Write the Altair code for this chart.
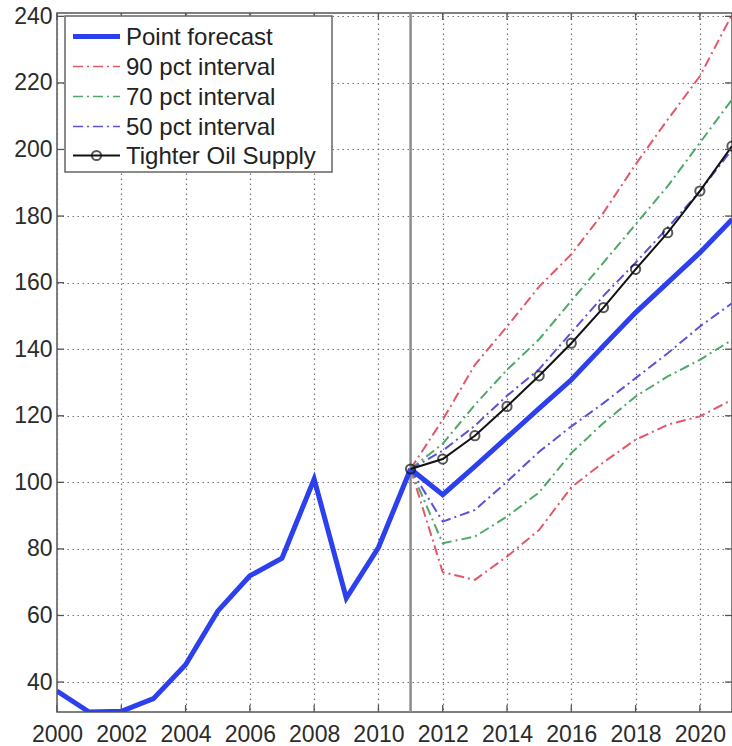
import altair as alt
import pandas as pd

# Historical oil price (USD per barrel)
hist_years = list(range(2000, 2012))
hist_price = [37.3, 31.0, 31.2, 35.0, 45.2, 61.3, 71.9, 77.2, 101.0, 65.2, 80.4, 104.0]

# Forecast horizon, starting from the last observation
fc_years = list(range(2011, 2022))
point_fc = [104.0, 96.3, 104.8, 113.5, 122.2, 130.8, 141.0, 151.0, 160.0, 169.0, 179.0]
tighter = [104.0, 107.0, 114.0, 122.8, 132.0, 141.8, 152.5, 164.0, 175.0, 187.5, 201.0]
lo90 = [104.0, 73.0, 70.7, 77.7, 85.7, 98.5, 106.0, 112.8, 117.3, 119.8, 124.8]
hi90 = [104.0, 118.8, 135.3, 146.8, 158.8, 168.5, 181.0, 195.5, 209.0, 222.0, 240.5]
lo70 = [104.0, 81.7, 83.7, 89.7, 97.0, 108.8, 117.8, 125.8, 131.8, 136.8, 142.8]
hi70 = [104.0, 111.6, 123.3, 133.8, 143.0, 154.5, 166.0, 177.5, 189.0, 202.0, 215.0]
lo50 = [104.0, 88.2, 91.7, 100.2, 109.2, 116.8, 123.8, 131.3, 138.8, 146.8, 153.8]
hi50 = [104.0, 109.5, 117.0, 126.0, 134.0, 145.0, 156.0, 166.0, 176.5, 187.5, 200.0]

x_ticks = list(range(2000, 2021, 2))
y_ticks = list(range(40, 241, 20))
split_year = [2011]

legend_labels = ["Point forecast", "90 pct interval", "70 pct interval",
                 "50 pct interval", "Tighter Oil Supply"]

W, H = 675, 699
FONT = "Liberation Sans"
BLUE = "#2d40ee"
RED = "#e2576a"
GREEN = "#4fa868"
PURPLE = "#5b52dc"
DASHDOT = [10, 4, 2, 4]
BAND_W = 2

xscale = alt.Scale(domain=[2000, 2021], nice=False, zero=False)
yscale = alt.Scale(domain=[31, 241], nice=False, zero=False)

X = alt.X("year:Q", scale=xscale, title=None,
          axis=alt.Axis(values=x_ticks, format="d", grid=True, ticks=False,
                        domain=False, labelFont=FONT, labelFontSize=23,
                        labelColor="#2b2b2b", labelPadding=11,
                        gridDash=[1.5, 3.5], gridColor="#737373",
                        gridWidth=1.2, labelFlush=False, labelOverlap=False))
Y = alt.Y("value:Q", scale=yscale, title=None,
          axis=alt.Axis(values=y_ticks, grid=True, ticks=False, domain=False,
                        labelFont=FONT, labelFontSize=23, labelColor="#2b2b2b",
                        labelPadding=5, gridDash=[1.5, 3.5],
                        gridColor="#737373", gridWidth=1.2, labelFlush=False,
                        labelOverlap=False))


def series_df(years, values):
    return pd.DataFrame({"year": years, "value": values})


def line(years, values, **style):
    return alt.Chart(series_df(years, values)).mark_line(clip=True, **style).encode(x=X, y=Y)


# Vertical marker at the forecast origin
split = alt.Chart(pd.DataFrame({"year": split_year})).mark_rule(
    color="#8c8c8c", strokeWidth=2.5).encode(x=X)

# Inward tick marks on all four sides
xt = pd.DataFrame({"year": x_ticks})
yt = pd.DataFrame({"value": y_ticks})
tick_style = dict(color="#555555", strokeWidth=1.3)
ticks = [
    alt.Chart(xt).mark_rule(**tick_style).encode(x=X, y=alt.value(H), y2=alt.value(H - 7)),
    alt.Chart(xt).mark_rule(**tick_style).encode(x=X, y=alt.value(0), y2=alt.value(7)),
    alt.Chart(yt).mark_rule(**tick_style).encode(y=Y, x=alt.value(0), x2=alt.value(7)),
    alt.Chart(yt).mark_rule(**tick_style).encode(y=Y, x=alt.value(W), x2=alt.value(W - 7)),
]

bands = [
    line(fc_years, lo90, color=RED, strokeWidth=BAND_W, strokeDash=DASHDOT),
    line(fc_years, hi90, color=RED, strokeWidth=BAND_W, strokeDash=DASHDOT),
    line(fc_years, lo70, color=GREEN, strokeWidth=BAND_W, strokeDash=DASHDOT),
    line(fc_years, hi70, color=GREEN, strokeWidth=BAND_W, strokeDash=DASHDOT),
    line(fc_years, lo50, color=PURPLE, strokeWidth=BAND_W, strokeDash=DASHDOT),
    line(fc_years, hi50, color=PURPLE, strokeWidth=BAND_W, strokeDash=DASHDOT),
]

history = line(hist_years, hist_price, color=BLUE, strokeWidth=5, strokeJoin="miter")
forecast = line(fc_years, point_fc, color=BLUE, strokeWidth=5)
tight_line = line(fc_years, tighter, color="#111111", strokeWidth=2)
tight_pts = alt.Chart(series_df(fc_years, tighter)).mark_point(
    shape="circle", filled=False, color="#111111", size=85, strokeWidth=2
).encode(x=X, y=Y)

# Legend box drawn in the upper-left corner of the plot
one = alt.Data(values=[{}])
row_y = [23.5, 53.5, 83.5, 113.5, 142.5]
lx0, lx1, tx = 16, 63, 69
legend = [
    alt.Chart(one).mark_rect(fill="white", stroke="#666666", strokeWidth=1.5).encode(
        x=alt.value(8), x2=alt.value(275), y=alt.value(3), y2=alt.value(159)),
    alt.Chart(one).mark_rule(color=BLUE, strokeWidth=5).encode(
        x=alt.value(lx0), x2=alt.value(lx1), y=alt.value(row_y[0])),
    alt.Chart(one).mark_rule(color=RED, strokeWidth=1.6, strokeDash=DASHDOT).encode(
        x=alt.value(lx0), x2=alt.value(lx1), y=alt.value(row_y[1])),
    alt.Chart(one).mark_rule(color=GREEN, strokeWidth=1.6, strokeDash=DASHDOT).encode(
        x=alt.value(lx0), x2=alt.value(lx1), y=alt.value(row_y[2])),
    alt.Chart(one).mark_rule(color=PURPLE, strokeWidth=1.6, strokeDash=DASHDOT).encode(
        x=alt.value(lx0), x2=alt.value(lx1), y=alt.value(row_y[3])),
    alt.Chart(one).mark_rule(color="#111111", strokeWidth=2.2).encode(
        x=alt.value(lx0), x2=alt.value(lx1), y=alt.value(row_y[4])),
    alt.Chart(one).mark_point(shape="circle", filled=False, color="#111111",
                              size=85, strokeWidth=2).encode(
        x=alt.value((lx0 + lx1) / 2), y=alt.value(row_y[4])),
]
for label, ry in zip(legend_labels, row_y):
    legend.append(
        alt.Chart(one).mark_text(text=label, align="left", baseline="middle",
                                 font=FONT, fontSize=24, color="#222222").encode(
            x=alt.value(tx), y=alt.value(ry + 1)))

chart = alt.layer(
    split, *bands, history, forecast, tight_line, tight_pts, *ticks, *legend
).properties(
    width=W, height=H,
    padding={"left": 57, "top": 13, "right": 0, "bottom": 34},
    autosize=alt.AutoSizeParams(type="none"),
    background="white",
).configure_view(stroke="#555555", strokeWidth=1.5)

chart.save("out.html", embed_options={"renderer": "svg", "actions": False})
